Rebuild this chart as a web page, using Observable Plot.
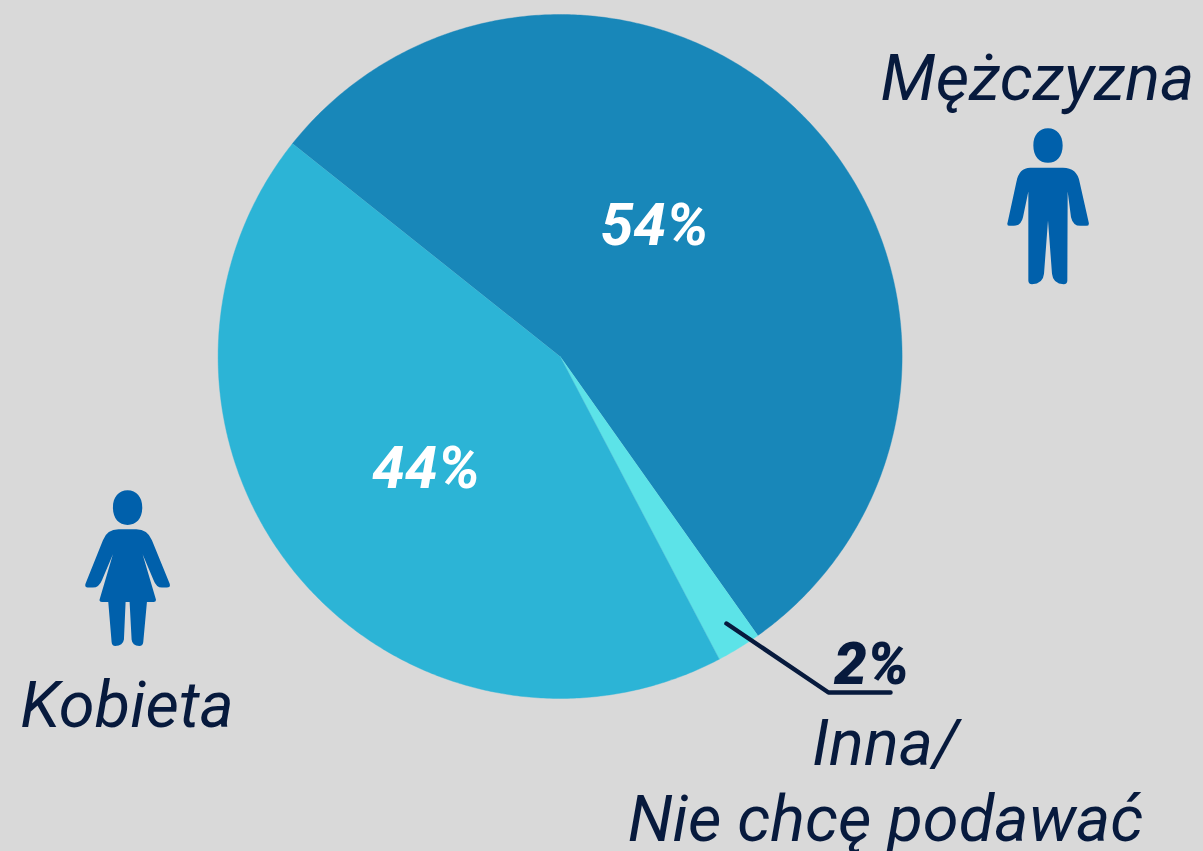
<!DOCTYPE html>
<html lang="pl">
<head>
<meta charset="utf-8">
<style>
html,body{margin:0;padding:0;background:#d9d9d9;overflow:hidden}
svg{display:block}
</style>
<script src="https://cdn.jsdelivr.net/npm/d3@7"></script>
<script src="https://cdn.jsdelivr.net/npm/@observablehq/plot@0.6"></script>
</head>
<body>
<div id="chart"></div>
<script>
// Data
const slices = ["Mężczyzna", "Inna", "Kobieta"];
const shares = [54.5, 2.1, 43.4];
const shareLabels = ["54%", "2%", "44%"];
const sliceColors = ["#1887b9", "#5ce3e8", "#2cb4d6"];

// Layout
const W = 1203, H = 851, cx = 559.6, cy = 356, R = 342;
const startDeg = 308.5;
const ink = "#071a3d", iconBlue = "#0060ab";

const arcs = d3.pie().sort(null).startAngle(startDeg * Math.PI / 180).endAngle((startDeg + 360) * Math.PI / 180)(shares);
const outline = slices.flatMap((label, i) => {
  const a0 = arcs[i].startAngle, a1 = arcs[i].endAngle;
  const n = Math.ceil((a1 - a0) * 180 / Math.PI * 2);
  const pts = [{label, x: cx, y: cy}];
  for (let k = 0; k <= n; k++) {
    const a = a0 + (a1 - a0) * k / n;
    pts.push({label, x: cx + R * Math.sin(a), y: cy - R * Math.cos(a)});
  }
  return pts;
});

// Person pictograms as custom symbols, drawn from the pictogram's centre
function pictogram(ox, oy, head, commands) {
  return {
    draw(c, size) {
      const k = Math.sqrt(size / Math.PI) / 120;
      const px = (x) => (x - ox) * k, py = (y) => (y - oy) * k;
      const [hx, hy, rx, ry] = head;
      const kx = rx * 0.6, ky = ry * 0.62;
      c.moveTo(px(hx - rx), py(hy));
      c.bezierCurveTo(px(hx - rx), py(hy - ky), px(hx - kx), py(hy - ry), px(hx), py(hy - ry));
      c.bezierCurveTo(px(hx + kx), py(hy - ry), px(hx + rx), py(hy - ky), px(hx + rx), py(hy));
      c.bezierCurveTo(px(hx + rx), py(hy + ky), px(hx + kx), py(hy + ry), px(hx), py(hy + ry));
      c.bezierCurveTo(px(hx - kx), py(hy + ry), px(hx - rx), py(hy + ky), px(hx - rx), py(hy));
      c.closePath();
      for (const s of commands) {
        if (s.length === 2 && s === commands[0]) c.moveTo(px(s[0]), py(s[1]));
        else if (s.length === 2) c.lineTo(px(s[0]), py(s[1]));
        else c.quadraticCurveTo(px(s[0]), py(s[1]), px(s[2]), py(s[3]));
      }
      c.closePath();
    }
  };
}
const man = pictogram(203, 288, [203, 105, 44, 52], [
  [150,172],[248,172],[290,172,298,215],[325,335],[328,346,318,346],[300,346],[278,346,272,320],
  [262,243],[261,510],[261,521,250,521],[218,521,215,490],[203,330],[191,490],[188,521,155,521],
  [144,521,144,510],[144,243],[128,320],[122,346,100,346],[88,346],[78,346,82,335],[108,215],[116,172,150,172]
]);
const woman = pictogram(172, 263, [172, 82, 44, 52], [
  [145,147],[198,147],[232,147,245,180],[298,310],[302,322,290,322],[275,322],[258,322,250,300],
  [217,222],[257,358],[258,365,250,365],[230,365],[219,485],[218,497,207,497],[186,497,184,478],
  [178,365],[166,365],[161,478],[158,497,135,497],[125,497,124,485],[114,365],[95,365],[86,365,88,358],
  [128,222],[95,300],[86,322,68,322],[52,322],[42,322,46,310],[98,180],[110,147,145,147]
]);

const font = {fontFamily: "Roboto", fontStyle: "italic", lineAnchor: "bottom", textAnchor: "middle"};
const nameLabels = [
  {t: "Mężczyzna", x: 1037, y: 99.5},
  {t: "Kobieta", x: 126.5, y: 726},
  {t: "Inna/", x: 885, y: 764},
  {t: "Nie chcę podawać", x: 885, y: 840}
];
const valueLabels = [
  {t: shareLabels[0], x: 654, y: 244, fill: "#ffffff"},
  {t: shareLabels[2], x: 425.5, y: 487, fill: "#ffffff"}
];
const smallValue = [{t: shareLabels[1], x: 871, y: 683, fill: ink}];
const leader = [{x: 726, y: 623}, {x: 828, y: 692}, {x: 890, y: 692}];

const chart = Plot.plot({
  width: W, height: H,
  margin: 0,
  style: {background: "#d9d9d9", overflow: "visible"},
  x: {domain: [0, W], range: [0, W], axis: null},
  y: {domain: [0, H], range: [0, H], axis: null},
  color: {domain: slices, range: sliceColors},
  marks: [
    Plot.line(outline, {x: "x", y: "y", z: "label", fill: "label", stroke: "label", strokeWidth: 0.4, curve: "linear"}),
    Plot.line(leader, {x: "x", y: "y", stroke: ink, strokeWidth: 4.5, strokeLinecap: "round", strokeLinejoin: "round"}),
    Plot.dot([{x: 1047.5, y: 206}], {x: "x", y: "y", r: 40, symbol: () => man, fill: iconBlue, stroke: "none"}),
    Plot.dot([{x: 127.1, y: 567.4}], {x: "x", y: "y", r: 40, symbol: () => woman, fill: iconBlue, stroke: "none"}),
    Plot.text(nameLabels, {...font, x: "x", y: "y", text: "t", fontSize: 65, fontWeight: 400, fill: ink}),
    Plot.text(valueLabels, {...font, x: "x", y: "y", text: "t", fontSize: 59, fontWeight: 700, fill: "fill"}),
    Plot.text(smallValue, {...font, x: "x", y: "y", text: "t", fontSize: 58.5, fontWeight: 900, fill: "fill"})
  ]
});
document.getElementById("chart").append(chart);
</script>
</body>
</html>
